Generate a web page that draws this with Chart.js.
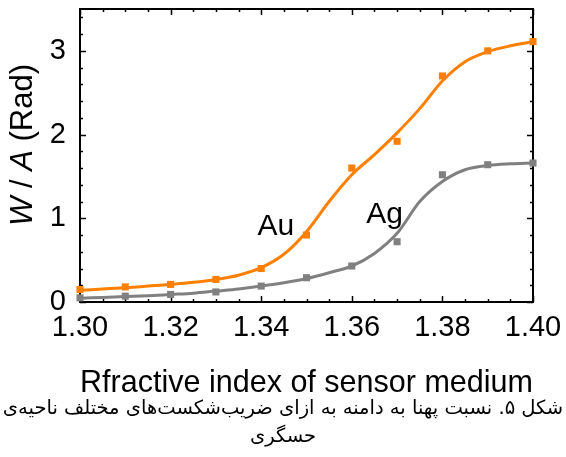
<!DOCTYPE html>
<html>
<head>
<meta charset="utf-8">
<script src="https://cdn.jsdelivr.net/npm/chart.js@4/dist/chart.umd.min.js"></script>
<style>
  html, body { margin: 0; padding: 0; background: #fff; }
  #wrap { position: relative; width: 566px; height: 457px; overflow: hidden; }
  #chart { position: absolute; left: 0; top: 0; }
  #caption {
    position: absolute; left: -40px; width: 646px; top: 394px;
    text-align: center; direction: rtl; white-space: nowrap;
    font-family: "DejaVu Sans", sans-serif; font-size: 19.5px; line-height: 28px; color: #000;
  }
</style>
</head>
<body>
<div id="wrap">
  <canvas id="chart" width="566" height="402"></canvas>
  <div id="caption">
    <div>شکل ۵. نسبت پهنا به دامنه به ازای ضریب‌شکست‌های مختلف ناحیه‌ی</div>
    <div>حسگری</div>
  </div>
</div>
<script>
// ── DATA ──────────────────────────────────────────────
const refractiveIndex = [1.30, 1.31, 1.32, 1.33, 1.34, 1.35, 1.36, 1.37, 1.38, 1.39, 1.40];
const auMeasured = [0.15, 0.18, 0.21, 0.27, 0.40, 0.80, 1.60, 1.92, 2.70, 3.00, 3.11];
const agMeasured = [0.05, 0.07, 0.09, 0.12, 0.19, 0.29, 0.43, 0.72, 1.52, 1.64, 1.66];

// fitted curves, every 0.005
const fitIndex = [1.300, 1.305, 1.310, 1.315, 1.320, 1.325, 1.330, 1.335, 1.340, 1.345, 1.350,
                  1.355, 1.360, 1.365, 1.370, 1.375, 1.380, 1.385, 1.390, 1.395, 1.400];
const auFit = [0.14, 0.155, 0.17, 0.19, 0.21, 0.235, 0.27, 0.32, 0.41, 0.57, 0.84,
               1.20, 1.52, 1.76, 2.02, 2.31, 2.64, 2.87, 2.99, 3.06, 3.11];
const agFit = [0.045, 0.055, 0.065, 0.075, 0.09, 0.105, 0.13, 0.155, 0.19, 0.23, 0.28,
               0.35, 0.43, 0.58, 0.82, 1.20, 1.44, 1.58, 1.63, 1.65, 1.66];

const xTickValues = [1.30, 1.32, 1.34, 1.36, 1.38, 1.40];
const xTickLabels = ["1.30", "1.32", "1.34", "1.36", "1.38", "1.40"];
const yTickValues = [0, 1, 2, 3];
const yTickLabels = ["0", "1", "2", "3"];

const ORANGE = "#ff7f00";
const GRAY = "#808080";
const FONT = "Liberation Sans";

const toXY = (xs, ys) => xs.map((x, i) => ({ x: x, y: ys[i] }));

// ── FRAME + INWARD TICKS ──────────────────────────────
const framePlugin = {
  id: "frame",
  beforeDatasetsDraw(chart) {
    const { ctx, chartArea: a, scales: { x, y } } = chart;
    ctx.save();
    ctx.strokeStyle = "#000";
    ctx.lineWidth = 1.5;
    ctx.beginPath();
    for (let i = 0; i <= 17; i++) {
      const v = i * 0.2;
      const py = Math.round(y.getPixelForValue(v)) + 0.5;
      const len = Math.abs(v - Math.round(v)) < 1e-6 ? 6 : 3;
      ctx.moveTo(a.left, py); ctx.lineTo(a.left + len, py);
      ctx.moveTo(a.right, py); ctx.lineTo(a.right - len, py);
    }
    for (let i = 0; i <= 20; i++) {
      const px = Math.round(x.getPixelForValue(1.30 + i * 0.005)) + 0.5;
      const len = i % 4 === 0 ? 6 : 3;
      ctx.moveTo(px, a.bottom); ctx.lineTo(px, a.bottom - len);
      ctx.moveTo(px, a.top); ctx.lineTo(px, a.top + len);
    }
    ctx.stroke();
    ctx.lineWidth = 2;
    ctx.strokeRect(a.left, a.top, a.right - a.left, a.bottom - a.top);
    ctx.restore();
  },
  afterDatasetsDraw(chart) {
    const { ctx, scales: { x, y } } = chart;
    ctx.save();
    ctx.fillStyle = "#000";
    ctx.font = `30px "${FONT}"`;
    ctx.textAlign = "left";
    ctx.textBaseline = "alphabetic";
    ctx.fillText("Au", x.getPixelForValue(1.3392), y.getPixelForValue(0.80));
    ctx.fillText("Ag", x.getPixelForValue(1.3632), y.getPixelForValue(0.94));

    // y axis title with italic W and A
    const parts = [["W", "italic "], [" / ", ""], ["A", "italic "], [" (Rad)", ""]];
    const size = 31;
    let total = 0;
    parts.forEach(p => { ctx.font = `${p[1]}${size}px "${FONT}"`; total += ctx.measureText(p[0]).width; });
    ctx.translate(31.5, 145);
    ctx.rotate(-Math.PI / 2);
    let cx = -total / 2;
    parts.forEach(p => {
      ctx.font = `${p[1]}${size}px "${FONT}"`;
      ctx.fillText(p[0], cx, 0);
      cx += ctx.measureText(p[0]).width;
    });
    ctx.restore();
  },
};

// ── CHART ─────────────────────────────────────────────
new Chart(document.getElementById("chart").getContext("2d"), {
  type: "scatter",
  data: {
    datasets: [
      { label: "Au data", data: toXY(refractiveIndex, auMeasured), showLine: false,
        pointStyle: "rect", pointRadius: 5, backgroundColor: ORANGE, borderWidth: 0, clip: false },
      { label: "Ag data", data: toXY(refractiveIndex, agMeasured), showLine: false,
        pointStyle: "rect", pointRadius: 5, backgroundColor: GRAY, borderWidth: 0, clip: false },
      { label: "Au fit", data: toXY(fitIndex, auFit), showLine: true, pointRadius: 0,
        borderColor: ORANGE, borderWidth: 3, cubicInterpolationMode: "monotone", clip: false },
      { label: "Ag fit", data: toXY(fitIndex, agFit), showLine: true, pointRadius: 0,
        borderColor: GRAY, borderWidth: 3, cubicInterpolationMode: "monotone", clip: false },
    ],
  },
  options: {
    responsive: false,
    animation: false,
    devicePixelRatio: 1,
    layout: { padding: { left: 0, right: 33, top: 9, bottom: 0 } },
    plugins: { legend: { display: false }, tooltip: { enabled: false } },
    scales: {
      x: {
        type: "linear", min: 1.30, max: 1.40,
        grid: { display: false, drawTicks: false },
        border: { display: false },
        afterBuildTicks: s => { s.ticks = xTickValues.map(v => ({ value: v })); },
        afterFit: s => { s.height = 100; s.paddingLeft = 0; s.paddingRight = 0; },
        ticks: {
          autoSkip: false, maxRotation: 0, padding: 9, color: "#000",
          font: { family: FONT, size: 29 },
          callback: (v, i) => xTickLabels[i],
        },
        title: {
          display: true, text: "Rfractive index of sensor medium", color: "#000",
          font: { family: FONT, size: 32 }, padding: { top: 0, bottom: 0 },
        },
      },
      y: {
        min: 0, max: 3.5,
        grid: { display: false, drawTicks: false },
        border: { display: false },
        afterBuildTicks: s => { s.ticks = yTickValues.map(v => ({ value: v })); },
        afterFit: s => { s.width = 80; s.paddingTop = 0; s.paddingBottom = 0; },
        ticks: {
          padding: 14, color: "#000",
          font: { family: FONT, size: 29 },
          callback: (v, i) => yTickLabels[i],
        },
      },
    },
  },
  plugins: [framePlugin],
});
</script>
</body>
</html>
